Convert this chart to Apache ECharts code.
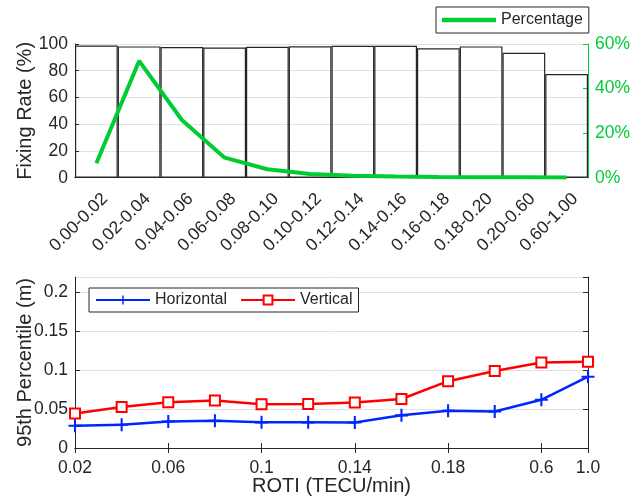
<!DOCTYPE html>
<html><head><meta charset="utf-8">
<script src="https://cdn.jsdelivr.net/npm/echarts@6/dist/echarts.min.js"></script>
<style>html,body{margin:0;padding:0;background:#fff}#c{width:644px;height:502px}</style>
</head><body><div id="c"></div>
<script>
// ---- data ----
const rotiBins = ['0.00-0.02','0.02-0.04','0.04-0.06','0.06-0.08','0.08-0.10','0.10-0.12','0.12-0.14','0.14-0.16','0.16-0.18','0.18-0.20','0.20-0.60','0.60-1.00'];
const fixingRate = [98.8, 98.2, 97.8, 97.4, 97.9, 98.3, 98.6, 98.7, 96.8, 98.2, 93.4, 77.6];
const percentage = [6.5, 52.4, 25.9, 9.0, 3.8, 1.7, 0.9, 0.5, 0.3, 0.2, 0.2, 0.1];
const rotiPoints = ['0.02','0.04','0.06','0.08','0.1','0.12','0.14','0.16','0.18','0.20','0.6','1.0'];
const horizontal = [0.0286, 0.030, 0.034, 0.035, 0.033, 0.033, 0.0328, 0.042, 0.048, 0.047, 0.062, 0.0917];
const vertical = [0.0445, 0.0527, 0.059, 0.061, 0.0563, 0.0566, 0.0584, 0.063, 0.086, 0.099, 0.110, 0.111];
const shownIdx = [0, 2, 4, 6, 8, 10, 11];
const fixingTicks = {min: 0, max: 100, interval: 20};
const pctTicks = {min: 0, max: 60, interval: 20};
const p95Ticks = {min: 0, max: 0.22, interval: 0.05};

// ---- style ----
const FONT = 'Liberation Sans, Arial, Helvetica, sans-serif';
const AX = '#262626';
const GRID = '#e2e2e2';
const GREEN = '#00cc33';
const BLUE = '#0026ff';
const RED = '#ff0000';
const showIdx = (i) => shownIdx.indexOf(i) >= 0;

const chart = echarts.init(document.getElementById('c'), null, {renderer: 'canvas'});
const axLine = {show: true, lineStyle: {color: AX, width: 1}};
chart.setOption({
  animation: false,
  backgroundColor: '#fff',
  textStyle: {fontFamily: FONT},
  grid: [
    {left: 75, right: 56, top: 44, height: 133.7},
    {left: 75, right: 56, top: 277, height: 171}
  ],
  legend: [
    {data: [{name: 'Percentage', icon: 'rect'}], left: 436, top: 7, itemWidth: 54, itemHeight: 4.5, padding: [5, 6, 5, 6],
     borderColor: AX, borderWidth: 1, backgroundColor: '#fff', borderRadius: 0,
     textStyle: {fontSize: 16, color: AX, fontFamily: FONT}},
    {data: ['Horizontal', 'Vertical'], left: 89, top: 288, itemWidth: 54, itemHeight: 11, itemGap: 13,
     padding: [4, 6, 4, 6], borderColor: AX, borderWidth: 1, backgroundColor: '#fff', borderRadius: 0,
     textStyle: {fontSize: 16, color: AX, fontFamily: FONT}}
  ],
  xAxis: [
    {gridIndex: 0, type: 'category', data: rotiBins, boundaryGap: true, axisLine: axLine,
     axisTick: {alignWithLabel: true, inside: true, length: 5, lineStyle: {color: AX}},
     axisLabel: {rotate: 45, interval: 0, fontSize: 17.5, color: AX, margin: 10,
                 verticalAlign: 'top', padding: [3, 0, 0, 0], fontFamily: FONT}},
    {gridIndex: 0, type: 'category', data: rotiBins, position: 'top', boundaryGap: true, axisLine: axLine,
     axisTick: {alignWithLabel: true, inside: true, length: 5, lineStyle: {color: AX}},
     axisLabel: {show: false}},
    {gridIndex: 1, type: 'category', data: rotiPoints, boundaryGap: false, axisLine: axLine,
     axisTick: {inside: true, length: 5, interval: (i) => showIdx(i), lineStyle: {color: AX}},
     axisLabel: {interval: (i) => showIdx(i), fontSize: 17.5, color: AX, margin: 11, fontFamily: FONT},
     name: 'ROTI (TECU/min)', nameLocation: 'middle', nameGap: 28, nameMoveOverlap: false,
     nameTextStyle: {fontSize: 20, color: AX, fontFamily: FONT, verticalAlign: 'top'}},
    {gridIndex: 1, type: 'category', data: rotiPoints, position: 'top', boundaryGap: false, axisLine: axLine,
     axisTick: {inside: true, length: 5, interval: (i) => showIdx(i), lineStyle: {color: AX}},
     axisLabel: {show: false}}
  ],
  yAxis: [
    {gridIndex: 0, type: 'value', min: fixingTicks.min, max: fixingTicks.max, interval: fixingTicks.interval,
     axisLine: axLine, axisTick: {show: true, inside: true, length: 4, lineStyle: {color: AX}},
     axisLabel: {fontSize: 17.5, color: AX, margin: 7, fontFamily: FONT},
     splitLine: {show: true, lineStyle: {color: GRID, width: 1}},
     name: 'Fixing Rate (%)', nameLocation: 'middle', nameGap: 40, nameMoveOverlap: false,
     nameTextStyle: {fontSize: 20, color: AX, fontFamily: FONT}},
    {gridIndex: 0, type: 'value', position: 'right', min: pctTicks.min, max: pctTicks.max, interval: pctTicks.interval,
     axisLine: {show: true, lineStyle: {color: GREEN, width: 1}},
     axisTick: {show: true, inside: true, length: 5, lineStyle: {color: GREEN}},
     axisLabel: {formatter: '{value}%', fontSize: 17.5, color: GREEN, margin: 7, fontFamily: FONT},
     splitLine: {show: false}},
    {gridIndex: 1, type: 'value', min: p95Ticks.min, max: p95Ticks.max, interval: p95Ticks.interval,
     axisLine: axLine, axisTick: {show: true, inside: true, length: 5, lineStyle: {color: AX}},
     axisLabel: {fontSize: 17.5, color: AX, margin: 7, showMaxLabel: false, fontFamily: FONT},
     splitLine: {show: true, lineStyle: {color: GRID, width: 1}},
     name: '95th Percentile (m)', nameLocation: 'middle', nameGap: 40, nameMoveOverlap: false,
     nameTextStyle: {fontSize: 20, color: AX, fontFamily: FONT}},
    {gridIndex: 1, type: 'value', position: 'right', min: p95Ticks.min, max: p95Ticks.max, interval: p95Ticks.interval,
     axisLine: axLine, axisTick: {show: true, inside: true, length: 5, lineStyle: {color: AX}},
     axisLabel: {show: false}, splitLine: {show: false}}
  ],
  series: [
    {name: 'Fixing Rate', type: 'bar', xAxisIndex: 0, yAxisIndex: 0, data: fixingRate, barWidth: '100%',
     silent: true, itemStyle: {color: 'rgba(255,255,255,0)', borderColor: AX, borderWidth: 1.2}},
    {name: 'Percentage', type: 'line', xAxisIndex: 0, yAxisIndex: 1, data: percentage, symbol: 'none',
     lineStyle: {color: GREEN, width: 4}, itemStyle: {color: GREEN}, z: 5},
    {name: 'Horizontal', type: 'line', xAxisIndex: 2, yAxisIndex: 2, data: horizontal,
     symbol: 'path://M4.2,0H5.8V4.2H10V5.8H5.8V10H4.2V5.8H0V4.2H4.2Z', symbolSize: 13,
     lineStyle: {color: BLUE, width: 2.5}, itemStyle: {color: BLUE}},
    {name: 'Vertical', type: 'line', xAxisIndex: 2, yAxisIndex: 2, data: vertical,
     symbol: 'emptyRect', symbolSize: 10,
     lineStyle: {color: RED, width: 2.5}, itemStyle: {color: RED, borderWidth: 2}}
  ]
});
</script>
</body></html>
